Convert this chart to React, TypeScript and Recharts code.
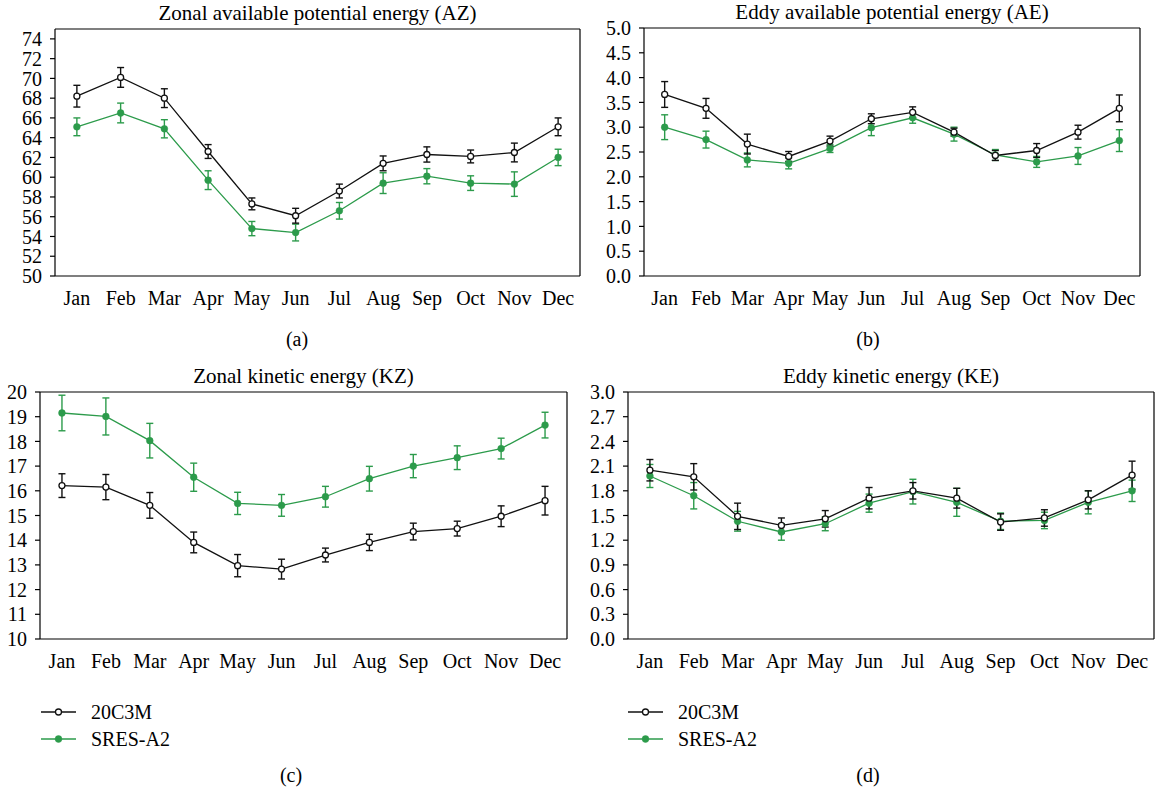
import { LineChart, Line, XAxis, YAxis, ErrorBar, ReferenceLine } from 'recharts'

const months = ['Jan', 'Feb', 'Mar', 'Apr', 'May', 'Jun', 'Jul', 'Aug', 'Sep', 'Oct', 'Nov', 'Dec']
// tick marks sit on the month boundaries, labels in the middle of each month
const monthEdges = [0, 1, 2, 3, 4, 5, 6, 7, 8, 9, 10, 11, 12]
const monthCenters = [0.5, 1.5, 2.5, 3.5, 4.5, 5.5, 6.5, 7.5, 8.5, 9.5, 10.5, 11.5]

// (a) zonal available potential energy
const azBase = [68.2, 70.1, 68.0, 62.6, 57.3, 56.1, 58.6, 61.4, 62.3, 62.1, 62.5, 65.1]
const azBaseErr = [1.1, 1.0, 0.95, 0.7, 0.6, 0.75, 0.7, 0.75, 0.77, 0.65, 0.95, 0.9]
const azA2 = [65.1, 66.5, 64.9, 59.7, 54.8, 54.4, 56.6, 59.4, 60.1, 59.4, 59.3, 62.0]
const azA2Err = [0.9, 1.0, 0.92, 0.95, 0.72, 0.85, 0.84, 1.05, 0.77, 0.74, 1.24, 0.83]
const azTicks = [50, 52, 54, 56, 58, 60, 62, 64, 66, 68, 70, 72, 74]

// (b) eddy available potential energy
const aeBase = [3.66, 3.38, 2.66, 2.41, 2.72, 3.17, 3.3, 2.9, 2.43, 2.53, 2.9, 3.38]
const aeBaseErr = [0.26, 0.2, 0.2, 0.1, 0.1, 0.1, 0.11, 0.08, 0.1, 0.14, 0.14, 0.27]
const aeA2 = [3.0, 2.75, 2.34, 2.27, 2.57, 2.99, 3.19, 2.86, 2.44, 2.3, 2.42, 2.73]
const aeA2Err = [0.25, 0.17, 0.14, 0.11, 0.08, 0.16, 0.11, 0.14, 0.11, 0.11, 0.17, 0.22]
const aeTicks = [0, 0.5, 1, 1.5, 2, 2.5, 3, 3.5, 4, 4.5, 5]

// (c) zonal kinetic energy
const kzBase = [16.21, 16.15, 15.41, 13.91, 12.97, 12.83, 13.4, 13.91, 14.35, 14.47, 14.97, 15.6]
const kzBaseErr = [0.48, 0.51, 0.52, 0.42, 0.45, 0.4, 0.28, 0.33, 0.34, 0.3, 0.42, 0.58]
const kzA2 = [19.15, 19.01, 18.03, 16.55, 15.49, 15.41, 15.76, 16.49, 17.0, 17.34, 17.71, 18.66]
const kzA2Err = [0.72, 0.75, 0.7, 0.57, 0.45, 0.44, 0.42, 0.5, 0.47, 0.48, 0.42, 0.52]
const kzTicks = [10, 11, 12, 13, 14, 15, 16, 17, 18, 19, 20]

// (d) eddy kinetic energy
const keBase = [2.05, 1.97, 1.49, 1.38, 1.46, 1.71, 1.8, 1.71, 1.42, 1.47, 1.69, 1.99]
const keBaseErr = [0.13, 0.16, 0.16, 0.09, 0.1, 0.13, 0.1, 0.12, 0.1, 0.1, 0.11, 0.17]
const keA2 = [1.98, 1.74, 1.43, 1.3, 1.4, 1.65, 1.79, 1.66, 1.43, 1.44, 1.66, 1.8]
const keA2Err = [0.14, 0.16, 0.12, 0.1, 0.085, 0.11, 0.15, 0.17, 0.1, 0.1, 0.14, 0.13]
const keTicks = [0, 0.3, 0.6, 0.9, 1.2, 1.5, 1.8, 2.1, 2.4, 2.7, 3.0]

const BLACK = '#111111'
const GREEN = '#2c9b4b'
const FONT = '"Liberation Serif", "DejaVu Serif", serif'

interface Row {
  x: number
  month: string
  base: number
  baseErr: number
  a2: number
  a2Err: number
}

function buildRows(base: number[], baseErr: number[], a2: number[], a2Err: number[]): Row[] {
  return months.map((month, i) => ({
    x: monthCenters[i],
    month,
    base: base[i],
    baseErr: baseErr[i],
    a2: a2[i],
    a2Err: a2Err[i],
  }))
}

interface PanelProps {
  title: string
  caption: string
  rows: Row[]
  domain: [number, number]
  ticks: number[]
  digits: number
  // plot box in page pixels
  plotLeft: number
  plotRight: number
  plotTop: number
  plotBottom: number
  yAxisWidth: number
  captionX: number
  captionY: number
}

const PAD_TOP = 14
const PAD_RIGHT = 3
const PAD_BOTTOM = 38

function Panel(p: PanelProps) {
  const plotW = p.plotRight - p.plotLeft
  const plotH = p.plotBottom - p.plotTop
  const width = p.yAxisWidth + plotW + PAD_RIGHT
  const height = PAD_TOP + plotH + PAD_BOTTOM + 2
  const tickStyle = { fill: '#000', fontSize: 20, fontFamily: FONT }

  return (
    <>
      <div style={{ position: 'absolute', left: p.plotLeft - p.yAxisWidth, top: p.plotTop - PAD_TOP }}>
        <LineChart
          width={width}
          height={height}
          data={p.rows}
          margin={{ top: PAD_TOP, right: PAD_RIGHT, bottom: PAD_BOTTOM, left: 0 }}
        >
          <XAxis
            xAxisId="edges"
            type="number"
            dataKey="x"
            domain={[0, 12]}
            ticks={monthEdges}
            interval={0}
            tick={false}
            tickSize={5}
            height={1}
            axisLine={{ stroke: '#000', strokeWidth: 1.2 }}
            tickLine={{ stroke: '#000', strokeWidth: 1.2 }}
          />
          <XAxis
            xAxisId="months"
            type="number"
            dataKey="x"
            domain={[0, 12]}
            ticks={monthCenters}
            interval={0}
            tickFormatter={(v: number) => months[Math.round(v - 0.5)]}
            tickSize={0}
            tickMargin={14}
            height={1}
            axisLine={false}
            tickLine={false}
            tick={tickStyle}
          />
          <YAxis
            type="number"
            domain={p.domain}
            ticks={p.ticks}
            interval={0}
            allowDataOverflow
            width={p.yAxisWidth}
            tickSize={5}
            tickMargin={8}
            tickFormatter={(v: number) => v.toFixed(p.digits)}
            axisLine={{ stroke: '#000', strokeWidth: 1.2 }}
            tickLine={{ stroke: '#000', strokeWidth: 1.2 }}
            tick={tickStyle}
          />
          {/* close the frame on top and right */}
          <ReferenceLine xAxisId="edges" y={p.domain[1]} stroke="#000" strokeWidth={1.2} />
          <ReferenceLine xAxisId="edges" x={12} stroke="#000" strokeWidth={1.2} />

          <Line
            xAxisId="months"
            dataKey="a2"
            stroke={GREEN}
            strokeWidth={1.3}
            dot={{ r: 3.4, fill: GREEN, stroke: GREEN, strokeWidth: 0.5 }}
            activeDot={false}
            isAnimationActive={false}
          >
            <ErrorBar dataKey="a2Err" direction="y" width={3.5} stroke={GREEN} strokeWidth={1.4} isAnimationActive={false} />
          </Line>
          <Line
            xAxisId="months"
            dataKey="base"
            stroke={BLACK}
            strokeWidth={1.3}
            dot={{ r: 3, fill: '#fff', stroke: BLACK, strokeWidth: 1.3 }}
            activeDot={false}
            isAnimationActive={false}
          >
            <ErrorBar dataKey="baseErr" direction="y" width={3.5} stroke={BLACK} strokeWidth={1.4} isAnimationActive={false} />
          </Line>
        </LineChart>
      </div>
      <div
        style={{
          position: 'absolute',
          left: p.plotLeft - 20,
          width: plotW + 40,
          top: p.plotTop - 28,
          textAlign: 'center',
          fontSize: 21,
          lineHeight: '24px',
          whiteSpace: 'nowrap',
        }}
      >
        {p.title}
      </div>
      <div
        style={{
          position: 'absolute',
          left: p.captionX - 30,
          width: 60,
          top: p.captionY - 12,
          textAlign: 'center',
          fontSize: 20,
          lineHeight: '24px',
        }}
      >
        {p.caption}
      </div>
    </>
  )
}

const legendItems = [
  { name: '20C3M', color: BLACK, open: true },
  { name: 'SRES-A2', color: GREEN, open: false },
]

function SeriesLegend({ left, top }: { left: number; top: number }) {
  return (
    <div style={{ position: 'absolute', left, top }}>
      {legendItems.map((item) => (
        <div key={item.name} style={{ display: 'flex', alignItems: 'center', height: 27 }}>
          <svg width={35} height={12} style={{ marginRight: 15 }}>
            <line x1={0} y1={6} x2={35} y2={6} stroke={item.color} strokeWidth={1.3} />
            <circle
              cx={17.5}
              cy={6}
              r={item.open ? 3 : 3.4}
              fill={item.open ? '#fff' : item.color}
              stroke={item.color}
              strokeWidth={item.open ? 1.3 : 0.5}
            />
          </svg>
          <span style={{ fontSize: 20, lineHeight: '24px' }}>{item.name}</span>
        </div>
      ))}
    </div>
  )
}

export default function App() {
  const azRows = buildRows(azBase, azBaseErr, azA2, azA2Err)
  const aeRows = buildRows(aeBase, aeBaseErr, aeA2, aeA2Err)
  const kzRows = buildRows(kzBase, kzBaseErr, kzA2, kzA2Err)
  const keRows = buildRows(keBase, keBaseErr, keA2, keA2Err)

  return (
    <div
      style={{
        position: 'absolute',
        left: 0,
        top: 0,
        width: 1157,
        height: 792,
        background: '#fff',
        color: '#000',
        fontFamily: FONT,
        overflow: 'hidden',
      }}
    >
      <Panel
        title="Zonal available potential energy (AZ)"
        caption="(a)"
        rows={azRows}
        domain={[50, 75]}
        ticks={azTicks}
        digits={0}
        plotLeft={55}
        plotRight={580}
        plotTop={29}
        plotBottom={276}
        yAxisWidth={55}
        captionX={297}
        captionY={339}
      />
      <Panel
        title="Eddy available potential energy (AE)"
        caption="(b)"
        rows={aeRows}
        domain={[0, 5]}
        ticks={aeTicks}
        digits={1}
        plotLeft={644}
        plotRight={1140}
        plotTop={28}
        plotBottom={276}
        yAxisWidth={60}
        captionX={868}
        captionY={339}
      />
      <Panel
        title="Zonal kinetic energy (KZ)"
        caption="(c)"
        rows={kzRows}
        domain={[10, 20]}
        ticks={kzTicks}
        digits={0}
        plotLeft={40}
        plotRight={567}
        plotTop={392}
        plotBottom={639}
        yAxisWidth={40}
        captionX={291}
        captionY={775}
      />
      <Panel
        title="Eddy kinetic energy (KE)"
        caption="(d)"
        rows={keRows}
        domain={[0, 3]}
        ticks={keTicks}
        digits={1}
        plotLeft={628}
        plotRight={1154}
        plotTop={392}
        plotBottom={639}
        yAxisWidth={60}
        captionX={868}
        captionY={775}
      />
      <SeriesLegend left={41} top={698} />
      <SeriesLegend left={628} top={698} />
    </div>
  )
}
